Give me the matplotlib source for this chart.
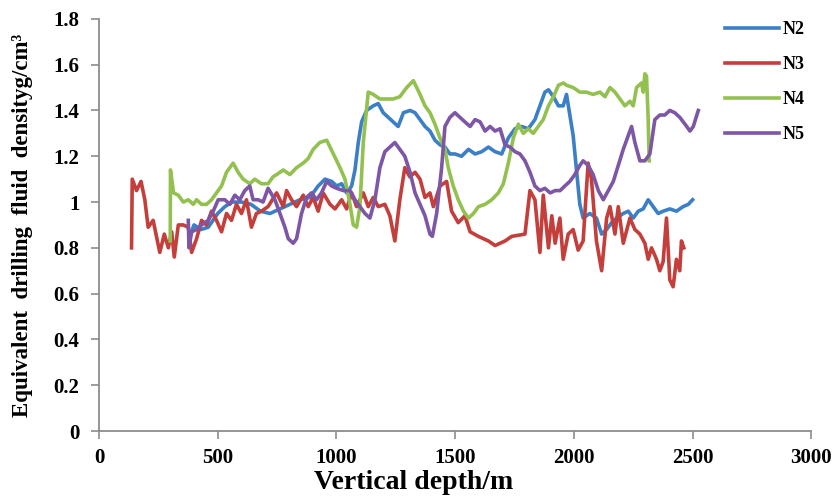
import matplotlib
matplotlib.use('Agg')
import matplotlib.pyplot as plt
from matplotlib.ticker import FuncFormatter

# data
n2_depth = [383, 400, 430, 460, 500, 530, 560, 600, 640, 680, 720, 762, 804, 846, 888, 923, 952, 980,
            1001, 1022, 1043, 1064, 1078, 1092, 1106, 1127, 1155, 1176, 1197, 1218, 1239, 1260, 1282,
            1310, 1331, 1352, 1373, 1394, 1415, 1436, 1457, 1478, 1499, 1527, 1556, 1584, 1612, 1640,
            1668, 1696, 1724, 1752, 1780, 1808, 1836, 1857, 1878, 1893, 1914, 1935, 1955, 1969, 1983,
            1997, 2011, 2025, 2039, 2067, 2095, 2117, 2138, 2159, 2180, 2208, 2229, 2250, 2271, 2292,
            2313, 2334, 2355, 2376, 2404, 2432, 2460, 2482, 2500]
n2_density = [0.85, 0.90, 0.88, 0.89, 0.95, 0.98, 1.00, 1.00, 0.99, 0.96, 0.95, 0.97, 0.99, 1.01, 1.02,
              1.07, 1.10, 1.09, 1.07, 1.08, 1.04, 1.07, 1.14, 1.26, 1.35, 1.40, 1.42, 1.43, 1.39, 1.37,
              1.35, 1.33, 1.39, 1.40, 1.39, 1.36, 1.33, 1.31, 1.27, 1.25, 1.24, 1.21, 1.21, 1.20, 1.23,
              1.21, 1.22, 1.24, 1.22, 1.21, 1.28, 1.32, 1.33, 1.32, 1.36, 1.42, 1.48, 1.49, 1.46, 1.42,
              1.42, 1.47, 1.38, 1.29, 1.14, 0.99, 0.93, 0.95, 0.93, 0.86, 0.88, 0.91, 0.93, 0.95, 0.96,
              0.93, 0.96, 0.97, 1.01, 0.98, 0.95, 0.96, 0.97, 0.96, 0.98, 0.99, 1.01]

n3_depth = [137, 140, 158, 177, 193, 207, 228, 242, 256, 275, 292, 306, 317, 334, 355, 376, 390, 411,
            432, 453, 474, 495, 516, 537, 558, 579, 600, 621, 642, 663, 684, 712, 748, 776, 790, 811,
            832, 860, 881, 902, 923, 944, 973, 994, 1022, 1043, 1064, 1085, 1113, 1134, 1155, 1176,
            1204, 1225, 1246, 1267, 1288, 1309, 1331, 1352, 1373, 1394, 1408, 1436, 1464, 1485, 1513,
            1541, 1563, 1598, 1640, 1668, 1710, 1738, 1794, 1815, 1836, 1857, 1871, 1893, 1907, 1921,
            1941, 1955, 1976, 1997, 2018, 2039, 2060, 2074, 2095, 2117, 2138, 2152, 2173, 2187, 2208,
            2236, 2257, 2278, 2299, 2313, 2327, 2348, 2362, 2376, 2390, 2404, 2418, 2432, 2446, 2453,
            2463]
n3_density = [0.80, 1.10, 1.05, 1.09, 1.01, 0.89, 0.92, 0.85, 0.78, 0.86, 0.80, 0.87, 0.76, 0.90, 0.90,
              0.89, 0.78, 0.84, 0.92, 0.90, 0.96, 0.92, 0.87, 0.95, 0.92, 0.99, 0.95, 1.01, 0.89, 0.95,
              0.96, 0.98, 1.04, 0.98, 1.05, 1.01, 0.98, 1.03, 0.98, 1.02, 0.96, 1.04, 0.99, 0.97, 1.01,
              0.97, 1.04, 0.98, 1.04, 0.98, 1.02, 0.98, 0.99, 0.94, 0.83, 1.01, 1.15, 1.11, 1.13, 1.10,
              1.02, 1.04, 0.98, 1.07, 1.09, 0.96, 0.91, 0.94, 0.87, 0.85, 0.83, 0.81, 0.83, 0.85, 0.86,
              1.05, 1.01, 0.78, 1.03, 0.80, 0.94, 0.82, 0.93, 0.75, 0.86, 0.88, 0.79, 0.83, 1.17, 1.10,
              0.83, 0.70, 0.93, 0.98, 0.86, 0.98, 0.82, 0.93, 0.88, 0.86, 0.82, 0.75, 0.80, 0.75, 0.70,
              0.74, 0.93, 0.66, 0.63, 0.75, 0.70, 0.83, 0.80]

n4_depth = [300, 301, 314, 334, 355, 376, 397, 411, 432, 453, 474, 495, 516, 537, 565, 586, 607, 635,
            656, 684, 712, 733, 748, 776, 804, 832, 860, 881, 902, 930, 959, 987, 1015, 1036, 1057,
            1071, 1085, 1099, 1113, 1134, 1155, 1183, 1211, 1239, 1267, 1296, 1324, 1352, 1373, 1394,
            1415, 1436, 1457, 1471, 1492, 1513, 1535, 1556, 1577, 1598, 1626, 1654, 1682, 1703, 1724,
            1745, 1766, 1787, 1808, 1829, 1850, 1871, 1893, 1914, 1935, 1956, 1969, 1997, 2025, 2053,
            2081, 2110, 2131, 2152, 2173, 2194, 2215, 2236, 2250, 2264, 2285, 2292, 2299, 2306, 2313,
            2317]
n4_density = [0.83, 1.14, 1.04, 1.03, 1.00, 1.01, 0.99, 1.01, 0.99, 0.99, 1.01, 1.04, 1.07, 1.13, 1.17,
              1.13, 1.10, 1.08, 1.10, 1.08, 1.08, 1.11, 1.12, 1.14, 1.12, 1.15, 1.17, 1.19, 1.23, 1.26,
              1.27, 1.21, 1.15, 1.10, 0.99, 0.90, 0.89, 0.98, 1.26, 1.48, 1.47, 1.45, 1.45, 1.45, 1.46,
              1.50, 1.53, 1.47, 1.42, 1.39, 1.34, 1.28, 1.23, 1.15, 1.07, 1.01, 0.96, 0.93, 0.95, 0.98,
              0.99, 1.01, 1.04, 1.08, 1.17, 1.28, 1.34, 1.30, 1.32, 1.30, 1.33, 1.36, 1.42, 1.46, 1.51,
              1.52, 1.51, 1.50, 1.48, 1.48, 1.47, 1.48, 1.46, 1.50, 1.48, 1.45, 1.42, 1.44, 1.42, 1.50,
              1.52, 1.48, 1.56, 1.55, 1.36, 1.18]

n5_depth = [376, 379, 390, 411, 432, 460, 481, 502, 530, 551, 572, 593, 614, 635, 649, 670, 691, 712,
            741, 762, 783, 797, 818, 832, 853, 874, 895, 916, 937, 959, 980, 1001, 1029, 1057, 1078,
            1099, 1120, 1141, 1162, 1183, 1204, 1225, 1246, 1267, 1288, 1310, 1331, 1352, 1373, 1394,
            1404, 1422, 1443, 1457, 1478, 1499, 1520, 1541, 1563, 1584, 1605, 1626, 1647, 1668, 1689,
            1710, 1731, 1752, 1773, 1794, 1815, 1836, 1857, 1878, 1900, 1921, 1942, 1962, 1983, 2004,
            2025, 2039, 2060, 2081, 2103, 2124, 2145, 2166, 2187, 2208, 2229, 2243, 2257, 2278, 2299,
            2320, 2341, 2362, 2383, 2404, 2425, 2446, 2468, 2489, 2503, 2524]
n5_density = [0.92, 0.80, 0.87, 0.88, 0.90, 0.92, 0.96, 1.01, 1.01, 0.99, 1.03, 1.01, 1.05, 1.07, 1.01,
              1.01, 1.00, 1.06, 1.01, 0.95, 0.89, 0.84, 0.82, 0.84, 0.95, 1.02, 1.04, 1.01, 1.04, 1.09,
              1.07, 1.06, 1.05, 1.05, 1.01, 0.98, 0.95, 0.93, 1.01, 1.15, 1.22, 1.24, 1.26, 1.23, 1.20,
              1.13, 1.04, 0.99, 0.94, 0.86, 0.85, 0.95, 1.15, 1.33, 1.37, 1.39, 1.37, 1.35, 1.33, 1.36,
              1.35, 1.31, 1.33, 1.31, 1.32, 1.25, 1.24, 1.22, 1.21, 1.18, 1.13, 1.07, 1.05, 1.06, 1.04,
              1.05, 1.05, 1.07, 1.09, 1.12, 1.16, 1.18, 1.16, 1.12, 1.05, 1.01, 1.05, 1.09, 1.16, 1.23,
              1.29, 1.33, 1.26, 1.18, 1.18, 1.21, 1.36, 1.38, 1.38, 1.40, 1.39, 1.37, 1.34, 1.31, 1.33,
              1.40]

serif = ['Liberation Serif', 'DejaVu Serif']

fig = plt.figure(figsize=(8.39, 4.96), dpi=100)
ax = fig.add_axes([0.118, 0.131, 0.849, 0.831])

lw = 2.6
ax.plot(n2_depth, n2_density, color='#3b7fc6', lw=lw, label='N2')
ax.plot(n3_depth, n3_density, color='#c43f3b', lw=lw, label='N3')
ax.plot(n4_depth, n4_density, color='#93c150', lw=lw, label='N4')
ax.plot(n5_depth, n5_density, color='#7d56a6', lw=lw, label='N5')

ax.set_xlim(0, 3000)
ax.set_ylim(0, 1.8)
ax.set_xticks(range(0, 3001, 500))
ax.set_yticks([0, 0.2, 0.4, 0.6, 0.8, 1.0, 1.2, 1.4, 1.6, 1.8])
ax.yaxis.set_major_formatter(FuncFormatter(lambda v, p: '%g' % round(v, 1)))

for s in ['top', 'right']:
    ax.spines[s].set_visible(False)
for s in ['left', 'bottom']:
    ax.spines[s].set_color('#8c8c8c')
    ax.spines[s].set_linewidth(1.3)
ax.tick_params(direction='out', length=6, width=1.2, color='#8c8c8c', pad=8)
for lab in ax.get_xticklabels() + ax.get_yticklabels():
    lab.set_fontfamily(serif)
    lab.set_fontweight('bold')
    lab.set_fontsize(15)
ax.tick_params(axis='x', pad=6)

# x label sits a little left of the axis centre in the original
fig.text(414 / 839, 1 - 489 / 496, 'Vertical depth/m', fontfamily=serif, fontweight='bold',
         fontsize=20, ha='center', va='baseline')
ax.set_ylabel('Equivalent  drilling  fluid  densityg/cm³', fontfamily=serif, fontweight='bold',
              fontsize=16.5)
ax.yaxis.set_label_coords(-0.092, 0.5)

fig.legend(loc='upper left', bbox_to_anchor=(0.845, 0.99), frameon=False,
           prop={'family': serif, 'weight': 'bold', 'size': 13},
           handlelength=3.0, handletextpad=0.2, labelspacing=1.0)

plt.savefig('out.png', dpi=100)
plt.close()
